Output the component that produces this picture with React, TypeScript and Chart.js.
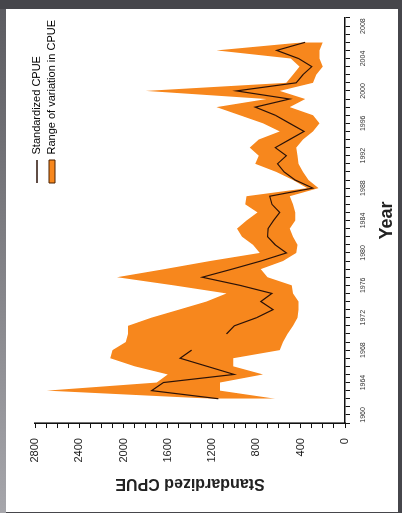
import React, { useEffect, useRef } from 'react';
import { Chart, registerables } from 'chart.js';

Chart.register(...registerables);

const years = [
  1962, 1963, 1964, 1965, 1966, 1967, 1968, 1969, 1970, 1971,
  1972, 1973, 1974, 1975, 1976, 1977, 1978, 1979, 1980, 1981,
  1982, 1983, 1984, 1985, 1986, 1987, 1988, 1989, 1990, 1991,
  1992, 1993, 1994, 1995, 1996, 1997, 1998, 1999, 2000, 2001,
  2002, 2003, 2004, 2005, 2006,
];

const standardizedCpue: (number | null)[] = [
  1144, 1746, 1640, 1002, 1246, 1490, 1385, null, 1070, 1000,
  800, 650, 760, 660, 950, 1290, 1020, 760, 530, 630,
  700, 695, 645, 590, 660, 680, 290, 450, 550, 610,
  530, 630, 500, 370, 500, 630, 810, 500, 980, 440,
  380, 300, 420, 617, 360,
];

const rangeUpper = [
  1200, 2694, 1700, 1600, 1900, 2120, 2100, 1980, 1960, 1960,
  1750, 1500, 1250, 1070, 1550, 2060, 1630, 1220, 770, 830,
  930, 975, 890, 790, 900, 890, 340, 470, 620, 810,
  780, 860, 780, 590, 740, 950, 1160, 710, 1800, 530,
  470, 410, 490, 1160, 380,
];

const rangeLower = [
  630, 1130, 1130, 740, 1010, 1010, 590, 560, 520, 470,
  430, 420, 420, 470, 480, 700, 760, 560, 440, 430,
  470, 500, 450, 450, 470, 500, 240, 330, 380, 420,
  430, 440, 380, 290, 230, 290, 500, 360, 590, 290,
  260, 200, 230, 230, 200,
];

const yearTickLabels = [1960, 1964, 1968, 1972, 1976, 1980, 1984, 1988, 1992, 1996, 2000, 2004, 2008];
const cpueTickLabels = [0, 400, 800, 1200, 1600, 2000, 2400, 2800];

const FONT = "'Liberation Sans', Arial, Helvetica, sans-serif";
const ORANGE = '#F7871D';
const LINE = '#2b1208';
const AXIS = '#111111';

export default function App() {
  const canvasRef = useRef<HTMLCanvasElement | null>(null);

  useEffect(() => {
    const canvas = canvasRef.current;
    if (!canvas) return;
    Chart.defaults.font.family = FONT;

    const toPoints = (arr: (number | null)[]) => years.map((yr, i) => ({ x: yr, y: arr[i] }));

    const legendPlacer = {
      id: 'legendPlacer',
      afterLayout(chart: any) {
        const lg = chart.legend;
        if (!lg) return;
        const w = lg.width;
        const h = lg.height;
        lg.left = 325;
        lg.right = 325 + w;
        lg.top = 21.5;
        lg.bottom = 21.5 + h;
      },
    };

    const chart = new Chart(canvas, {
      type: 'line',
      data: {
        datasets: [
          {
            label: 'Standardized CPUE',
            data: toPoints(standardizedCpue),
            borderColor: LINE,
            borderWidth: 1.2,
            pointRadius: 0,
            fill: false,
            spanGaps: false,
            tension: 0,
          },
          {
            label: 'Range of variation in CPUE',
            data: toPoints(rangeUpper),
            borderColor: 'rgba(0,0,0,0)',
            borderWidth: 0,
            backgroundColor: ORANGE,
            pointRadius: 0,
            fill: '+1',
            tension: 0,
          },
          {
            label: 'lower',
            data: toPoints(rangeLower),
            borderColor: 'rgba(0,0,0,0)',
            borderWidth: 0,
            backgroundColor: ORANGE,
            pointRadius: 0,
            fill: false,
            tension: 0,
          },
        ],
      },
      options: {
        animation: false,
        responsive: false,
        devicePixelRatio: 1,
        layout: { padding: { left: 19.4, right: 8, top: 29, bottom: 0 } },
        plugins: {
          tooltip: { enabled: false },
          legend: {
            position: 'chartArea' as any,
            align: 'start',
            labels: {
              usePointStyle: true,
              pointStyleWidth: 23,
              boxHeight: 6,
              padding: 4,
              color: '#333',
              font: { size: 11, family: FONT },
              generateLabels: () => [
                {
                  text: 'Standardized CPUE',
                  pointStyle: 'line',
                  strokeStyle: LINE,
                  fillStyle: LINE,
                  lineWidth: 1.5,
                  hidden: false,
                  datasetIndex: 0,
                } as any,
                {
                  text: 'Range of variation in CPUE',
                  pointStyle: 'rect',
                  strokeStyle: '#4a2000',
                  fillStyle: ORANGE,
                  lineWidth: 1,
                  hidden: false,
                  datasetIndex: 1,
                } as any,
              ],
            },
          },
        },
        scales: {
          x: {
            type: 'linear',
            position: 'bottom',
            min: 1959,
            max: 2009,
            border: { display: true, color: AXIS, width: 1.6 },
            grid: { drawOnChartArea: false, drawTicks: true, tickLength: 5, color: AXIS, lineWidth: 1 },
            ticks: {
              stepSize: 1,
              autoSkip: false,
              maxRotation: 0,
              minRotation: 0,
              maxTicksLimit: 200,
              padding: 9,
              color: '#333',
              font: { size: 7, family: FONT },
              callback: (v: any) => (yearTickLabels.includes(Number(v)) ? String(v) : ''),
            },
            title: {
              display: true,
              text: 'Year',
              color: '#222',
              font: { size: 18, weight: 'bold', family: FONT },
              padding: { top: 0, bottom: 0 },
            },
          },
          y: {
            type: 'linear',
            position: 'left',
            min: 0,
            max: 2800,
            border: { display: true, color: AXIS, width: 1.6 },
            grid: { drawOnChartArea: false, drawTicks: true, tickLength: 5, color: AXIS, lineWidth: 1 },
            ticks: {
              stepSize: 100,
              autoSkip: false,
              maxTicksLimit: 200,
              padding: 10,
              color: '#222',
              font: { size: 11, family: FONT },
              callback: (v: any) => (cpueTickLabels.includes(Number(v)) ? String(v) : ''),
            },
            title: {
              display: true,
              text: 'Standardized CPUE',
              color: '#222',
              font: { size: 16, weight: 'bold', family: FONT },
              padding: { top: 0, bottom: 0.9 },
            },
          },
        },
      },
      plugins: [legendPlacer],
    } as any);

    return () => chart.destroy();
  }, []);

  return (
    <div
      style={{
        position: 'fixed',
        left: 0,
        top: 0,
        width: 402,
        height: 513,
        background: '#46464b',
        overflow: 'hidden',
      }}
    >
      <div
        style={{
          position: 'absolute',
          left: 0,
          top: 9,
          width: 6,
          height: 504,
          background: 'linear-gradient(to bottom, #5c5c61, #a6a6ab)',
        }}
      />
      <div style={{ position: 'absolute', left: 6, top: 9, width: 392, height: 503, background: '#ffffff' }} />
      <div
        style={{
          position: 'absolute',
          left: 0,
          top: 0,
          width: 503,
          height: 392,
          transformOrigin: '0 0',
          transform: 'translate(6px, 512px) rotate(-90deg)',
        }}
      >
        <canvas ref={canvasRef} width={503} height={392} style={{ display: 'block', width: 503, height: 392 }} />
      </div>
    </div>
  );
}
